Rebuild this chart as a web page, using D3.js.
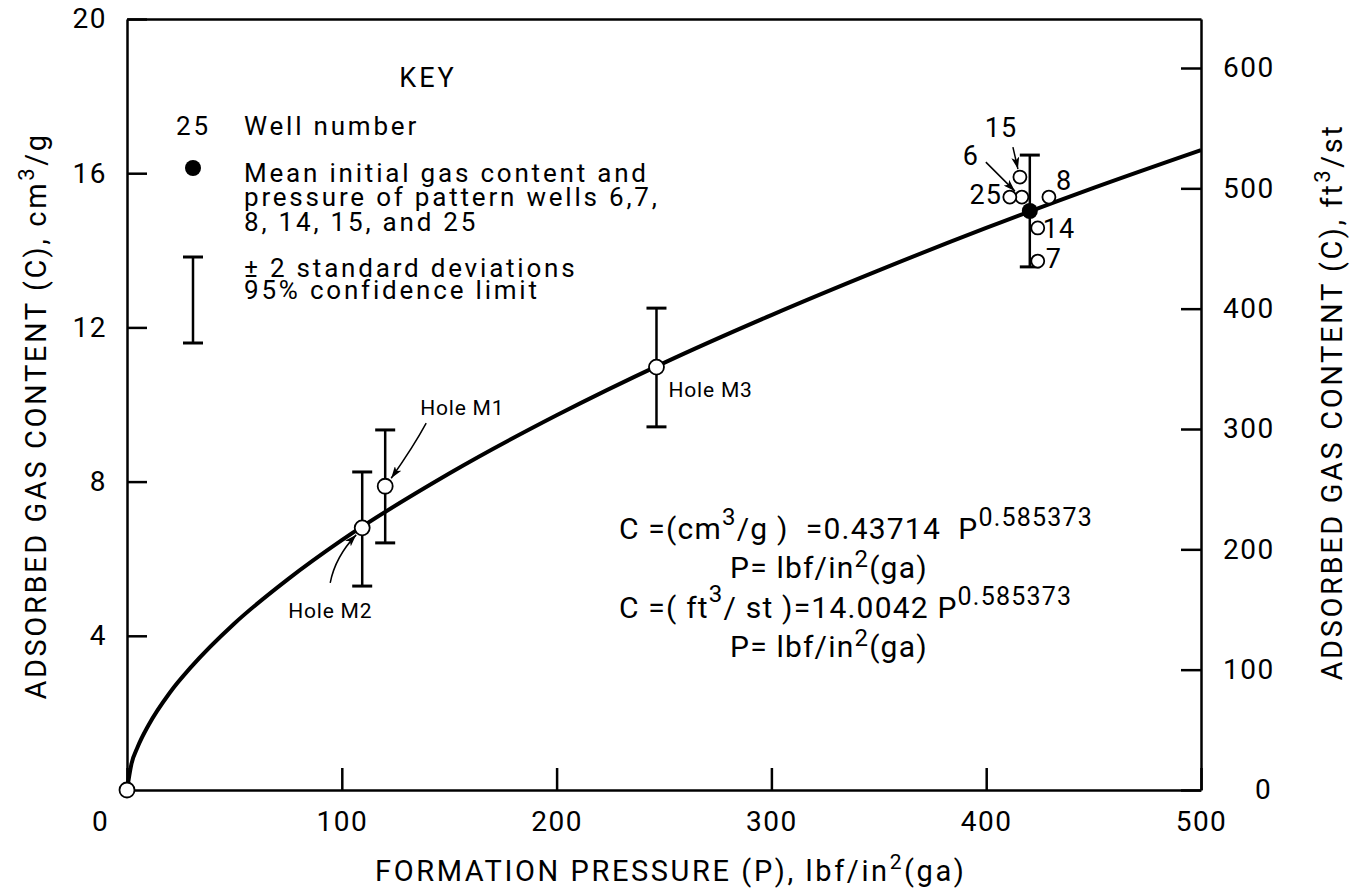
<!DOCTYPE html>
<html>
<head>
<meta charset="utf-8">
<script src="https://cdn.jsdelivr.net/npm/d3@7"></script>
<style>
body { margin: 0; background: #fff; }
svg { font-family: Roboto, "Liberation Sans", sans-serif; fill: #000; }
.axis path, .axis line { stroke: #000; stroke-width: 2.5; }
.axis text { font-size: 28px; fill: #000; font-family: Roboto, sans-serif; letter-spacing: 1.5px; }
.lbl { font-size: 26px; letter-spacing: 2.8px; }
.well { font-size: 27px; letter-spacing: 1px; }
.hole { font-size: 21px; letter-spacing: 0.8px; }
.title { font-size: 29px; letter-spacing: 2.6px; }
.eq { font-size: 30px; letter-spacing: 1.2px; }
</style>
</head>
<body>
<svg id="chart" width="1352" height="889"></svg>
<script>
var width = 1352;
var height = 889;
var margin = {top: 19, right: 151, bottom: 99, left: 127};
var w = width - margin.left - margin.right;
var h = height - margin.top - margin.bottom;

// fitted curve C = 0.43714 P^0.585373
var curveP = [0, 2, 5, 10, 20, 30, 50, 75, 100, 150, 200, 250, 300, 350, 400, 450, 500];
var curveC = [0, 0.66, 1.12, 1.68, 2.53, 3.2, 4.32, 5.47, 6.48, 8.21, 9.72, 11.08, 12.32, 13.48, 14.58, 15.62, 16.6];

// core holes with +/- 2 standard deviations
var holeNames = ["Hole M2", "Hole M1", "Hole M3"];
var holeP = [109.5, 120.2, 246.5];
var holeC = [6.8, 7.88, 10.97];
var holeLow = [5.29, 6.41, 9.42];
var holeHigh = [8.25, 9.34, 12.5];

// pattern wells
var wellNames = ["15", "6", "25", "8", "14", "7"];
var wellP = [415.7, 416.6, 411, 429.2, 424, 424];
var wellC = [15.9, 15.38, 15.38, 15.38, 14.58, 13.72];

// mean of pattern wells: P, C, low, high
var meanPoint = [420.3, 15.02, 13.57, 16.47];

// origin point
var originPoint = [0, 0];

var xTicks = [0, 100, 200, 300, 400, 500];
var yTicks = [4, 8, 12, 16, 20];
var rightTicks = [0, 100, 200, 300, 400, 500, 600];

var cmToFt = 14.0042 / 0.43714; // cm3/g -> ft3/st

var svg = d3.select("#chart");

svg.append("defs").append("marker")
    .attr("id", "arrow")
    .attr("viewBox", "0 0 12 8")
    .attr("refX", 12)
    .attr("refY", 4)
    .attr("markerWidth", 12)
    .attr("markerHeight", 8)
    .attr("markerUnits", "userSpaceOnUse")
    .attr("orient", "auto")
    .append("path")
    .attr("d", "M0,0 L12,4 L0,8 L3,4 z")
    .attr("fill", "#000");

var plot = svg.append("g")
    .attr("transform", "translate(" + margin.left + "," + margin.top + ")");

var x = d3.scaleLinear().domain([0, 500]).range([0, w]);
var y = d3.scaleLinear().domain([0, 20]).range([h, 0]);
var yr = d3.scaleLinear().domain([0, 20 * cmToFt]).range([h, 0]);

// bottom axis
var xAxis = d3.axisBottom(x)
    .tickValues(xTicks)
    .tickSizeInner(-22)
    .tickSizeOuter(0)
    .tickPadding(21);
var gx = plot.append("g")
    .attr("class", "axis")
    .attr("transform", "translate(0," + h + ")")
    .call(xAxis);
gx.selectAll(".tick").filter(function(d) { return d === 0; })
    .select("text").attr("dx", -27);

// top border
plot.append("g")
    .attr("class", "axis")
    .call(d3.axisTop(x).tickValues([]).tickSizeOuter(0));

// left axis
var yAxis = d3.axisLeft(y)
    .tickValues(yTicks)
    .tickSizeInner(-20)
    .tickSizeOuter(0)
    .tickPadding(20);
plot.append("g")
    .attr("class", "axis")
    .call(yAxis);

// right axis in ft3/st
var yrAxis = d3.axisRight(yr)
    .tickValues(rightTicks)
    .tickSizeInner(-20)
    .tickSizeOuter(0)
    .tickPadding(22);
var gr = plot.append("g")
    .attr("class", "axis")
    .attr("transform", "translate(" + w + ",0)")
    .call(yrAxis);
gr.selectAll(".tick").filter(function(d) { return d === 0; })
    .select("text").attr("dx", 32);

// axis titles
svg.append("text")
    .attr("class", "title")
    .attr("font-size", 30)
    .attr("transform", "translate(46,416) rotate(-90)")
    .attr("text-anchor", "middle")
    .html("ADSORBED GAS CONTENT (C), cm<tspan dy='-12' font-size='22'>3</tspan><tspan dy='12'>/g</tspan>");

svg.append("text")
    .attr("class", "title")
    .attr("font-size", 30)
    .attr("transform", "translate(1342,402) rotate(-90)")
    .attr("text-anchor", "middle")
    .html("ADSORBED GAS CONTENT (C), ft<tspan dy='-12' font-size='22'>3</tspan><tspan dy='12'>/st</tspan>");

svg.append("text")
    .attr("class", "title")
    .attr("x", 375)
    .attr("y", 881)
    .html("FORMATION PRESSURE (P), lbf/in<tspan dy='-12' font-size='21'>2</tspan><tspan dy='12'>(ga)</tspan>");

// fitted curve
var curveData = curveP.map(function(p, i) { return [p, curveC[i]]; });
plot.append("path")
    .datum(curveData)
    .attr("fill", "none")
    .attr("stroke", "#000")
    .attr("stroke-width", 4)
    .attr("d", d3.line()
        .x(function(d) { return x(d[0]); })
        .y(function(d) { return y(d[1]); })
        .curve(d3.curveMonotoneX));

// error bars
function errorBar(p, lo, hi) {
    var g = plot.append("g").attr("stroke", "#000");
    g.append("line")
        .attr("x1", x(p)).attr("x2", x(p))
        .attr("y1", y(lo)).attr("y2", y(hi))
        .attr("stroke-width", 2.5);
    [lo, hi].forEach(function(v) {
        g.append("line")
            .attr("x1", x(p) - 10).attr("x2", x(p) + 10)
            .attr("y1", y(v)).attr("y2", y(v))
            .attr("stroke-width", 3);
    });
}

holeP.forEach(function(p, i) { errorBar(p, holeLow[i], holeHigh[i]); });
errorBar(meanPoint[0], meanPoint[2], meanPoint[3]);

function openCircle(p, c, r) {
    plot.append("circle")
        .attr("cx", x(p))
        .attr("cy", y(c))
        .attr("r", r)
        .attr("fill", "#fff")
        .attr("stroke", "#000")
        .attr("stroke-width", 1.8);
}

holeP.forEach(function(p, i) { openCircle(p, holeC[i], 7.5); });
openCircle(originPoint[0], originPoint[1], 7.5);
wellP.forEach(function(p, i) { openCircle(p, wellC[i], 6.5); });

// mean point
plot.append("circle")
    .attr("cx", x(meanPoint[0]))
    .attr("cy", y(meanPoint[1]))
    .attr("r", 8)
    .attr("fill", "#000");

// hole labels: text offset from the circle, and arrow start/control/end offsets
var holeLabelOff = [[-74, 90], [35, -71], [12, 30]];
var holeArrows = [
    [[-32, 55], [-27, 29], [-6, 7]],
    [[41, -63], [28, -39], [6, -8]],
    null
];
holeP.forEach(function(p, i) {
    var cx = x(p), cy = y(holeC[i]);
    plot.append("text")
        .attr("class", "hole")
        .attr("x", cx + holeLabelOff[i][0])
        .attr("y", cy + holeLabelOff[i][1])
        .text(holeNames[i]);
    var a = holeArrows[i];
    if (a) {
        plot.append("path")
            .attr("d", "M" + (cx + a[0][0]) + "," + (cy + a[0][1]) +
                " Q" + (cx + a[1][0]) + "," + (cy + a[1][1]) +
                " " + (cx + a[2][0]) + "," + (cy + a[2][1]))
            .attr("fill", "none")
            .attr("stroke", "#000")
            .attr("stroke-width", 1.5)
            .attr("marker-end", "url(#arrow)");
    }
});

// well labels
var wellLabelOff = [[-19, -40, "middle"], [-51, -32, "middle"], [-8, 7, "end"],
    [7, -7, "start"], [5, 10, "start"], [8, 7, "start"]];
var wellArrows = [[[-7, -30], [-2, -8]], [[-36, -35], [-7, -6]], null, null, null, null];
wellP.forEach(function(p, i) {
    var cx = x(p), cy = y(wellC[i]);
    plot.append("text")
        .attr("class", "well")
        .attr("x", cx + wellLabelOff[i][0])
        .attr("y", cy + wellLabelOff[i][1])
        .attr("text-anchor", wellLabelOff[i][2])
        .text(wellNames[i]);
    var a = wellArrows[i];
    if (a) {
        plot.append("line")
            .attr("x1", cx + a[0][0]).attr("y1", cy + a[0][1])
            .attr("x2", cx + a[1][0]).attr("y2", cy + a[1][1])
            .attr("stroke", "#000")
            .attr("stroke-width", 1.5)
            .attr("marker-end", "url(#arrow)");
    }
});

// key
var key = svg.append("g").attr("class", "lbl");
key.append("text").attr("x", 428).attr("y", 87).attr("text-anchor", "middle")
    .attr("font-size", 27).attr("letter-spacing", 3).text("KEY");
key.append("text").attr("x", 176).attr("y", 135).text("25");
key.append("text").attr("x", 244).attr("y", 135).text("Well number");
key.append("circle").attr("cx", 193).attr("cy", 168).attr("r", 8).attr("fill", "#000");
key.append("text").attr("x", 244).attr("y", 182).text("Mean initial gas content and");
key.append("text").attr("x", 244).attr("y", 206).text("pressure of pattern wells 6,7,");
key.append("text").attr("x", 244).attr("y", 231).text("8, 14, 15, and 25");
key.append("line").attr("x1", 193).attr("x2", 193).attr("y1", 257).attr("y2", 343)
    .attr("stroke", "#000").attr("stroke-width", 2.5);
key.append("line").attr("x1", 183).attr("x2", 203).attr("y1", 257).attr("y2", 257)
    .attr("stroke", "#000").attr("stroke-width", 3);
key.append("line").attr("x1", 183).attr("x2", 203).attr("y1", 343).attr("y2", 343)
    .attr("stroke", "#000").attr("stroke-width", 3);
key.append("text").attr("x", 244).attr("y", 277).text("\u00b1 2 standard deviations");
key.append("text").attr("x", 244).attr("y", 299).text("95% confidence limit");

// equations
var eq = svg.append("g").attr("class", "eq");
eq.append("text").attr("x", 619).attr("y", 539)
    .html("C =(cm<tspan dy='-14' font-size='24'>3</tspan><tspan dy='14'>/g )&#160; =0.43714 &#160;P</tspan><tspan dy='-13' font-size='25'>0.585373</tspan>");
eq.append("text").attr("x", 730).attr("y", 578)
    .html("P= lbf/in<tspan dy='-11' font-size='24'>2</tspan><tspan dy='11'>(ga)</tspan>");
eq.append("text").attr("x", 619).attr("y", 618)
    .html("C =( ft<tspan dy='-16' font-size='24'>3</tspan><tspan dy='16'>/ st )=14.0042 P</tspan><tspan dy='-13' font-size='25'>0.585373</tspan>");
eq.append("text").attr("x", 730).attr("y", 657)
    .html("P= lbf/in<tspan dy='-11' font-size='24'>2</tspan><tspan dy='11'>(ga)</tspan>");
</script>
</body>
</html>
